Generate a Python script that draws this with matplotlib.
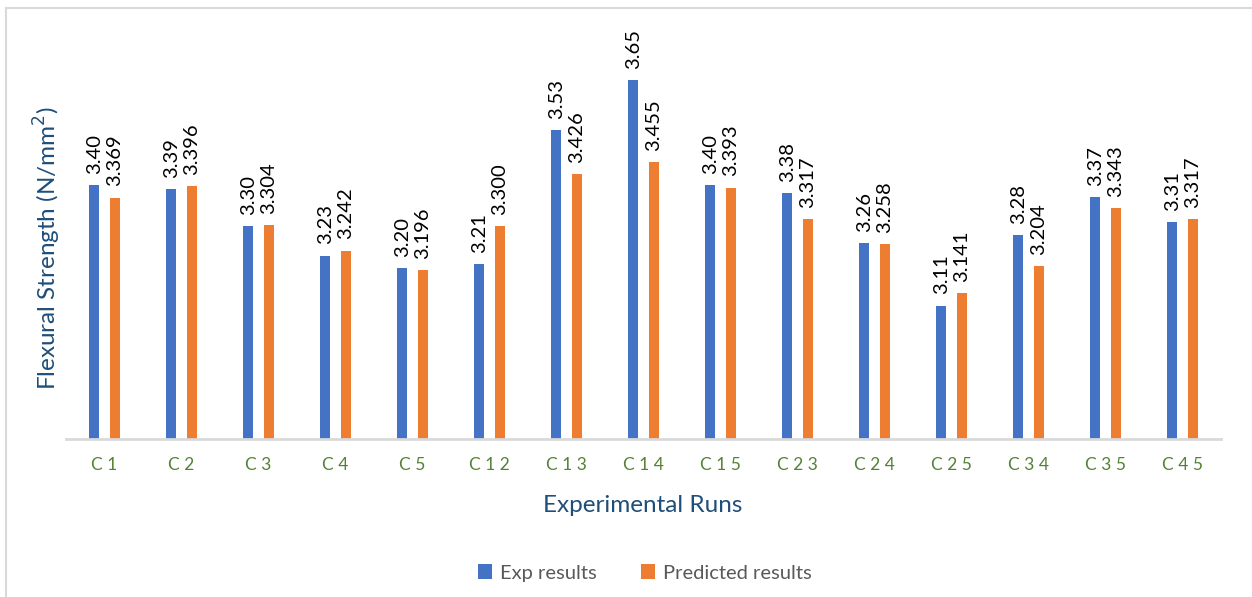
import matplotlib
matplotlib.use("Agg")
import matplotlib.pyplot as plt
from matplotlib.lines import Line2D
import numpy as np

# Flexural strength: experimental vs predicted for each run
runs = ["C1", "C2", "C3", "C4", "C5", "C12", "C13", "C14",
        "C15", "C23", "C24", "C25", "C34", "C35", "C45"]
exp_results = [3.40, 3.39, 3.30, 3.23, 3.20, 3.21, 3.53, 3.65,
               3.40, 3.38, 3.26, 3.11, 3.28, 3.37, 3.31]
predicted_results = [3.369, 3.396, 3.304, 3.242, 3.196, 3.300, 3.426, 3.455,
                     3.393, 3.317, 3.258, 3.141, 3.204, 3.343, 3.317]

W, H = 1252, 597
BLUE = "#4472C4"
ORANGE = "#ED7D31"
GRID = "#D9D9D9"

plt.rcParams["font.family"] = ["Lato", "DejaVu Sans"]


def fx(px):
    return px / W


def fy(py):
    return 1 - py / H


fig = plt.figure(figsize=(W / 100, H / 100), dpi=100)
ax = fig.add_axes([fx(66), fy(439), fx(1221) - fx(66), fy(22) - fy(439)])

x = np.arange(len(runs))
width = 0.13
b1 = ax.bar(x - 0.13, exp_results, width, color=BLUE, label="Exp results")
b2 = ax.bar(x + 0.13, predicted_results, width, color=ORANGE, label="Predicted results")

for rect, v in zip(b1, exp_results):
    ax.annotate("%.2f" % v, (rect.get_x() + rect.get_width() / 2, v),
                xytext=(0, 8), textcoords="offset points", rotation=90,
                ha="center", va="bottom", fontsize=14.5, color="#000000")
for rect, v in zip(b2, predicted_results):
    ax.annotate("%.3f" % v, (rect.get_x() + rect.get_width() / 2, v),
                xytext=(0, 8), textcoords="offset points", rotation=90,
                ha="center", va="bottom", fontsize=14.5, color="#000000")

ax.set_xlim(-0.5, len(runs) - 0.5)
ax.set_ylim(2.79, 3.79)
ax.set_xticks(x)
ax.set_xticklabels([" ".join(r) for r in runs], color="#548235", fontsize=12.5)
ax.tick_params(axis="x", length=0, pad=13)
ax.set_yticks([])
for s in ["top", "right", "left"]:
    ax.spines[s].set_visible(False)
ax.spines["bottom"].set_color(GRID)
ax.spines["bottom"].set_linewidth(2)

fig.text(fx(47), fy(248), "Flexural Strength (N/mm$^2$)", rotation=90,
         ha="center", va="center", fontsize=17.5, color="#1F4E79")
fig.text(fx(643), fy(505), "Experimental Runs", ha="center", va="center",
         fontsize=17.5, color="#1F4E79")

fig.legend(handles=[b1, b2], loc="center", bbox_to_anchor=(fx(645), fy(573)),
           ncol=2, frameon=False, fontsize=14.5, handlelength=0.7,
           handleheight=0.7, handletextpad=0.4, columnspacing=2.2,
           labelcolor="#595959")

# chart frame
fig.add_artist(Line2D([fx(6), fx(6)], [0, fy(8)], color=GRID, lw=1.5))
fig.add_artist(Line2D([fx(6), 1], [fy(8), fy(8)], color=GRID, lw=1.5))

fig.savefig("out.png", dpi=100, facecolor="white")
